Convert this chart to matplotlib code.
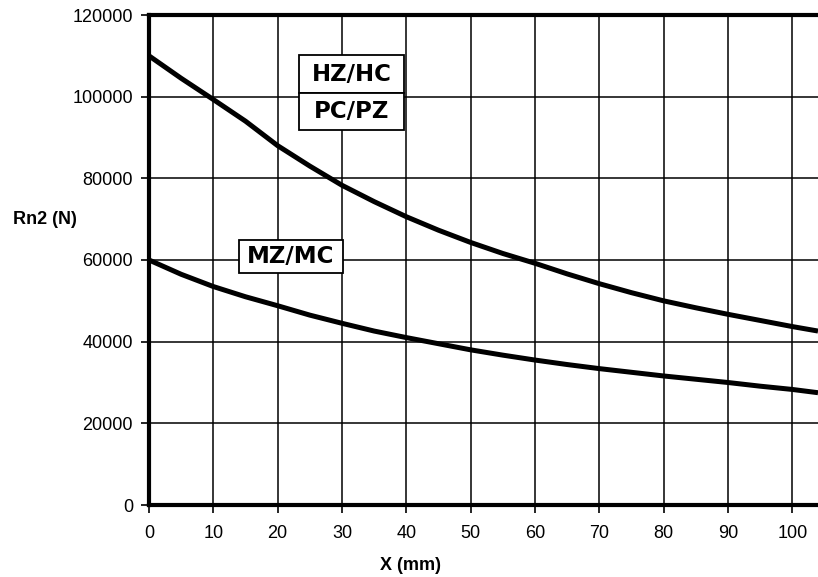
import matplotlib
matplotlib.use("Agg")
import matplotlib.pyplot as plt
from matplotlib.patches import Rectangle

# --- data ---
x_mm = [0, 5, 10, 15, 20, 25, 30, 35, 40, 45, 50, 55, 60, 65, 70, 75, 80, 85, 90, 95, 100, 104]
rn2_hz = [110000, 104500, 99300, 94000, 88000, 83000, 78300, 74300, 70600, 67300, 64300,
          61600, 59200, 56600, 54200, 52000, 50000, 48300, 46700, 45200, 43700, 42600]
rn2_mz = [60000, 56500, 53500, 51000, 48800, 46500, 44500, 42600, 41000, 39500, 38000,
          36700, 35500, 34400, 33400, 32500, 31600, 30800, 30000, 29100, 28300, 27500]

x_ticks = [0, 10, 20, 30, 40, 50, 60, 70, 80, 90, 100]
y_ticks = [0, 20000, 40000, 60000, 80000, 100000, 120000]

plt.rcParams['font.family'] = ['Liberation Sans', 'DejaVu Sans']

fig = plt.figure(figsize=(8.18, 5.77), dpi=100)
ax = fig.add_axes([149 / 818, 72 / 577, 669 / 818, 490 / 577])

ax.plot(x_mm, rn2_hz, color="black", lw=3.6, solid_capstyle="butt", zorder=3)
ax.plot(x_mm, rn2_mz, color="black", lw=3.6, solid_capstyle="butt", zorder=3)

ax.set_xlim(0, 104.0)
ax.set_ylim(0, 120000)
ax.set_xticks(x_ticks)
ax.set_yticks(y_ticks)
ax.grid(True, color="black", lw=1.1)
ax.set_axisbelow(True)

ax.tick_params(axis="both", direction="out", length=5.5, width=1.2, labelsize=13, color="black")
ax.tick_params(axis="x", pad=9)
ax.tick_params(axis="y", pad=6)

for side in ["left", "bottom", "top"]:
    ax.spines[side].set_linewidth(3)
ax.spines["right"].set_visible(False)

# label boxes (axes fraction)
box_kw = dict(transform=ax.transAxes, facecolor="white", edgecolor="black", lw=1.3, zorder=5)
ax.add_patch(Rectangle((0.2242, 0.8402), 0.157, 0.0782, **box_kw))
ax.add_patch(Rectangle((0.2242, 0.7653), 0.157, 0.0749, **box_kw))
ax.add_patch(Rectangle((0.1345, 0.4735), 0.1555, 0.0673, **box_kw))

txt_kw = dict(transform=ax.transAxes, ha="center", va="center", fontsize=16.5,
              fontweight="bold", family="DejaVu Sans", zorder=6)
ax.text(0.3027, 0.8793, "HZ/HC", **txt_kw)
ax.text(0.3027, 0.8027, "PC/PZ", **txt_kw)
ax.text(0.2122, 0.5071, "MZ/MC", **txt_kw)

fig.text(45 / 818, (577 - 220) / 577, "Rn2 (N)", ha="center", va="center",
         fontsize=13, fontweight="bold")
fig.text(411 / 818, (577 - 565) / 577, "X (mm)", ha="center", va="center",
         fontsize=13, fontweight="bold")

fig.savefig("out.png", dpi=100)
